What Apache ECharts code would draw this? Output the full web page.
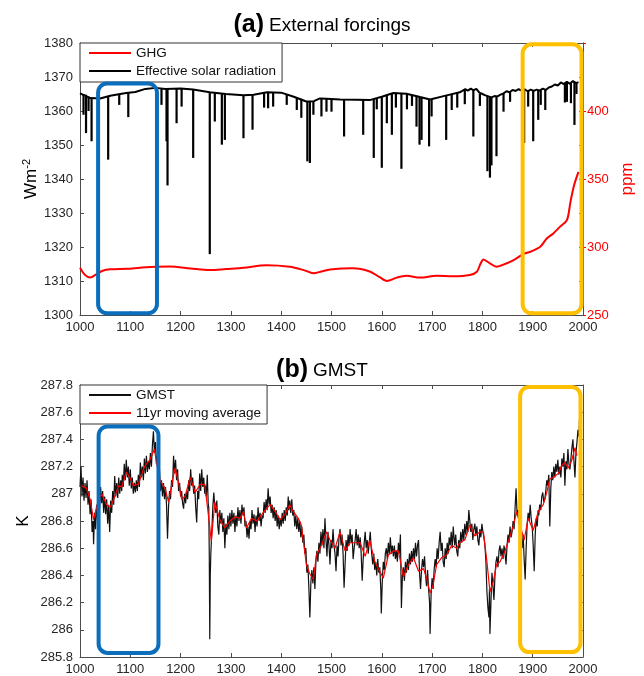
<!DOCTYPE html>
<html>
<head>
<meta charset="utf-8">
<title>External forcings and GMST</title>
<script src="https://cdn.jsdelivr.net/npm/echarts@6/dist/echarts.min.js"></script>
<style>
  html, body { margin: 0; padding: 0; background: #ffffff; }
  #chart { width: 644px; height: 676px; }
</style>
</head>
<body>
<div id="chart"></div>
<script>
// ---------- (a) External forcings ----------
// Greenhouse-gas concentration, [year, ppm]
const ghg = [
  [1000, 284.8], [1010, 279.5], [1020, 277.5], [1033, 280.0], [1045, 282.5], [1060, 283.6],
  [1093, 284.0], [1120, 284.8], [1152, 285.5], [1179, 285.6], [1220, 284.2], [1258, 283.0],
  [1290, 283.8], [1325, 284.7], [1371, 286.6], [1417, 285.5], [1445, 283.0], [1464, 280.7],
  [1480, 282.0], [1497, 283.5], [1543, 284.3], [1576, 282.0], [1595, 278.0], [1610, 275.0],
  [1630, 277.5], [1649, 278.8], [1676, 277.5], [1709, 278.8], [1742, 278.5], [1775, 279.4],
  [1789, 281.8], [1796, 287.5], [1802, 290.9], [1815, 288.0], [1828, 285.5], [1845, 287.5],
  [1862, 290.4], [1881, 294.8], [1895, 296.5], [1915, 300.2], [1928, 306.3], [1941, 310.0],
  [1954, 314.8], [1968, 319.7], [1975, 333.0], [1982, 345.0], [1991, 355.2]
];

// Effective solar radiation without volcanic dimming, [year, W m-2]
const solarBase = [
  [1000, 1365.2], [1010, 1364.5], [1020, 1363.8], [1040, 1363.7], [1060, 1364.5], [1080, 1365.0],
  [1092, 1365.3], [1110, 1365.6], [1130, 1366.5], [1150, 1366.8], [1170, 1366.5], [1200, 1366.6],
  [1225, 1366.3], [1258, 1365.5], [1290, 1365.0], [1325, 1364.6], [1345, 1364.8], [1372, 1365.5],
  [1400, 1365.4], [1425, 1364.2], [1450, 1362.8], [1465, 1362.9], [1477, 1363.7], [1490, 1363.6],
  [1517, 1363.4], [1550, 1363.3], [1576, 1363.2], [1600, 1364.2], [1623, 1365.3], [1649, 1365.1],
  [1676, 1364.1], [1696, 1363.4], [1729, 1364.6], [1755, 1365.5], [1760, 1365.9], [1766, 1366.4],
  [1771, 1366.0], [1777, 1366.6], [1782, 1366.1], [1788, 1366.5], [1794, 1365.4], [1800, 1365.0],
  [1806, 1364.6], [1812, 1364.3], [1818, 1364.0], [1824, 1364.4], [1830, 1364.3], [1836, 1364.8],
  [1842, 1365.2], [1848, 1365.8], [1854, 1365.5], [1860, 1366.2], [1866, 1365.9], [1872, 1366.4],
  [1878, 1366.0], [1884, 1366.4], [1890, 1365.8], [1896, 1366.3], [1902, 1365.9], [1908, 1366.3],
  [1914, 1366.0], [1920, 1366.6], [1926, 1366.2], [1932, 1366.9], [1938, 1367.2], [1944, 1367.8],
  [1950, 1367.5], [1956, 1368.4], [1962, 1367.9], [1968, 1368.6], [1974, 1368.0], [1980, 1368.8],
  [1986, 1368.2], [1991, 1368.5]
];

// Volcanic dimming events, [year, level before, lowest level] in W m-2
const volcanicDips = [
  [1007, 1365.0, 1358.9], [1012, 1364.8, 1353.5], [1017, 1364.3, 1360.0], [1023, 1363.8, 1351.1],
  [1056, 1364.4, 1345.7], [1078, 1365.0, 1361.8], [1096, 1365.3, 1358.2], [1162, 1366.6, 1361.8],
  [1172, 1366.5, 1351.1], [1174, 1366.5, 1338.1], [1192, 1366.6, 1356.4], [1202, 1366.6, 1361.3],
  [1225, 1366.3, 1346.2], [1258, 1365.5, 1317.9], [1268, 1365.4, 1356.9], [1282, 1365.1, 1350.1],
  [1288, 1365.0, 1351.5], [1325, 1364.6, 1352.0], [1343, 1364.8, 1354.5], [1366, 1365.3, 1361.0],
  [1374, 1365.5, 1360.8], [1384, 1365.5, 1361.3], [1411, 1365.0, 1361.8], [1431, 1364.0, 1360.3],
  [1440, 1363.6, 1358.0], [1452, 1362.8, 1345.2], [1457, 1362.8, 1344.7], [1464, 1362.9, 1358.9],
  [1480, 1363.5, 1358.4], [1490, 1363.6, 1359.8], [1500, 1363.6, 1359.8], [1525, 1363.4, 1352.5],
  [1563, 1363.2, 1353.0], [1584, 1363.6, 1346.2], [1590, 1363.8, 1360.5], [1600, 1364.2, 1343.3],
  [1610, 1364.8, 1356.4], [1620, 1365.3, 1353.0], [1628, 1365.3, 1361.0], [1639, 1365.2, 1343.0],
  [1650, 1365.1, 1360.5], [1660, 1364.8, 1361.5], [1669, 1364.4, 1355.4], [1675, 1364.2, 1350.1],
  [1679, 1364.0, 1351.5], [1694, 1363.5, 1349.6], [1699, 1363.4, 1358.4], [1728, 1364.6, 1351.5],
  [1739, 1365.0, 1360.3], [1750, 1365.4, 1361.0], [1765, 1366.2, 1362.0], [1782, 1366.1, 1352.5],
  [1795, 1365.1, 1361.5], [1810, 1364.4, 1342.3], [1815, 1364.1, 1340.4], [1818, 1364.0, 1344.0],
  [1828, 1364.3, 1346.7], [1842, 1365.2, 1359.8], [1855, 1365.5, 1362.7], [1883, 1366.4, 1350.6],
  [1891, 1366.0, 1361.3], [1901, 1366.0, 1351.1], [1911, 1366.2, 1357.4], [1916, 1366.1, 1361.8],
  [1925, 1366.3, 1360.3], [1964, 1368.3, 1362.5], [1968, 1368.6, 1362.7], [1976, 1368.2, 1362.3],
  [1983, 1368.6, 1355.9], [1987, 1368.4, 1365.0]
];

// ---------- (b) GMST ----------
// Annual global-mean surface temperature, [year, K]
const gmst = [
  [1000,287.05],[1002,287.20],[1004,286.98],[1006,287.12],[1008,286.95],[1010,287.08],[1012,286.97],[1014,287.10],
  [1016,286.92],[1018,287.02],[1020,286.85],[1022,286.96],[1024,286.72],[1026,286.80],[1027,286.63],[1029,286.86],
  [1031,286.74],[1033,286.92],[1035,286.80],[1037,287.02],[1039,286.90],[1041,287.05],[1043,286.93],[1045,287.02],
  [1047,286.86],[1049,286.98],[1051,286.85],[1053,286.96],[1055,286.78],[1057,286.92],[1059,286.72],[1061,286.95],
  [1063,286.86],[1065,287.02],[1067,286.92],[1069,287.13],[1071,286.98],[1073,287.08],[1075,286.97],[1077,287.12],
  [1079,287.00],[1081,287.10],[1083,287.02],[1084,287.14],[1086,287.05],[1088,287.22],[1090,287.10],[1092,287.25],
  [1094,287.12],[1096,287.20],[1098,287.06],[1100,287.18],[1102,287.04],[1104,287.12],[1106,287.00],[1108,287.08],
  [1110,287.01],[1112,287.10],[1114,287.02],[1116,287.14],[1118,287.05],[1120,287.23],[1122,287.12],[1124,287.20],
  [1126,287.10],[1128,287.26],[1130,287.15],[1132,287.28],[1134,287.16],[1136,287.24],[1138,287.18],[1140,287.30],
  [1142,287.20],[1144,287.36],[1146,287.46],[1148,287.30],[1150,287.38],[1152,287.22],[1154,287.28],[1156,287.12],
  [1158,287.18],[1160,287.02],[1162,287.10],[1164,286.98],[1166,287.08],[1168,286.96],[1170,287.05],[1172,286.92],
  [1174,286.67],[1176,286.90],[1178,287.02],[1180,286.96],[1182,287.10],[1184,287.05],[1186,287.28],[1188,287.15],
  [1190,287.25],[1192,287.10],[1194,287.18],[1196,287.02],[1198,287.08],[1200,286.98],[1202,287.02],[1204,286.93],
  [1206,286.89],[1208,287.00],[1210,286.93],[1212,287.02],[1214,286.96],[1216,287.10],[1218,287.02],[1220,287.18],
  [1222,287.06],[1224,287.12],[1226,287.00],[1228,287.06],[1230,286.90],[1232,286.79],[1234,287.02],[1236,286.96],
  [1238,287.15],[1240,287.02],[1242,287.18],[1244,287.05],[1246,287.12],[1248,287.00],[1249,287.06],[1251,286.98],
  [1253,287.14],[1255,286.92],[1256,286.90],[1257,286.55],[1258,285.93],[1259,286.40],[1260,286.55],[1262,286.72],
  [1264,286.90],[1266,287.01],[1268,286.90],[1270,286.86],[1272,286.95],[1274,286.76],[1276,286.70],[1278,286.88],
  [1280,286.78],[1282,286.86],[1284,286.72],[1286,286.82],[1288,286.60],[1290,286.78],[1292,286.70],[1294,286.84],
  [1296,286.74],[1298,286.86],[1300,286.76],[1302,286.88],[1304,286.78],[1306,286.86],[1308,286.72],[1310,286.84],
  [1312,286.76],[1314,286.90],[1316,286.80],[1318,286.88],[1320,286.78],[1322,286.92],[1324,286.84],[1326,286.90],
  [1328,286.76],[1330,286.80],[1332,286.68],[1334,286.76],[1336,286.67],[1338,286.80],[1340,286.74],[1342,286.88],
  [1344,286.78],[1346,286.85],[1348,286.72],[1350,286.84],[1352,286.76],[1354,286.90],[1356,286.80],[1358,286.86],
  [1360,286.76],[1362,286.84],[1364,286.82],[1366,286.94],[1368,286.86],[1370,286.96],[1372,286.88],[1374,287.04],
  [1376,286.92],[1378,286.98],[1380,286.86],[1382,286.92],[1384,286.82],[1386,286.90],[1388,286.80],[1390,286.88],
  [1392,286.76],[1394,286.84],[1396,286.74],[1398,286.82],[1400,286.76],[1402,286.86],[1404,286.78],[1406,286.88],
  [1408,286.80],[1410,286.90],[1412,286.84],[1414,286.98],[1415,286.88],[1417,286.95],[1419,286.86],[1421,286.96],
  [1423,286.84],[1425,286.88],[1427,286.76],[1429,286.84],[1431,286.74],[1433,286.82],[1435,286.72],[1437,286.80],
  [1439,286.68],[1441,286.76],[1443,286.64],[1445,286.70],[1447,286.56],[1449,286.60],[1451,286.42],[1453,286.48],
  [1455,286.31],[1457,286.09],[1459,286.35],[1461,286.44],[1463,286.34],[1465,286.46],[1467,286.30],[1469,286.50],
  [1471,286.58],[1473,286.50],[1475,286.64],[1477,286.56],[1479,286.72],[1481,286.62],[1483,286.74],[1485,286.60],
  [1487,286.82],[1489,286.66],[1491,286.54],[1493,286.72],[1495,286.62],[1497,286.48],[1499,286.66],[1501,286.60],
  [1503,286.74],[1505,286.62],[1507,286.56],[1509,286.43],[1511,286.62],[1513,286.54],[1515,286.68],[1517,286.74],
  [1519,286.62],[1521,286.70],[1523,286.56],[1525,286.31],[1527,286.48],[1529,286.66],[1531,286.58],[1533,286.70],
  [1535,286.62],[1537,286.74],[1539,286.64],[1541,286.70],[1543,286.52],[1545,286.60],[1547,286.66],[1549,286.74],
  [1551,286.62],[1553,286.70],[1555,286.60],[1557,286.68],[1559,286.56],[1561,286.36],[1563,286.52],[1565,286.64],
  [1567,286.72],[1569,286.60],[1571,286.66],[1573,286.56],[1575,286.64],[1577,286.72],[1579,286.60],[1581,286.52],
  [1582,286.48],[1584,286.56],[1586,286.44],[1588,286.50],[1590,286.40],[1592,286.52],[1594,286.42],[1596,286.46],
  [1598,286.30],[1599,286.12],[1601,286.36],[1603,286.50],[1605,286.44],[1607,286.56],[1609,286.60],[1611,286.52],
  [1613,286.64],[1615,286.56],[1617,286.68],[1619,286.56],[1621,286.62],[1623,286.54],[1625,286.62],[1627,286.52],
  [1629,286.58],[1631,286.50],[1633,286.64],[1635,286.56],[1637,286.70],[1639,286.16],[1641,286.40],[1643,286.46],
  [1645,286.36],[1647,286.50],[1649,286.42],[1651,286.52],[1653,286.44],[1655,286.56],[1657,286.48],[1659,286.58],
  [1661,286.50],[1663,286.60],[1665,286.52],[1667,286.64],[1669,286.54],[1671,286.62],[1673,286.66],[1675,286.42],
  [1677,286.30],[1679,286.44],[1681,286.52],[1683,286.46],[1685,286.54],[1687,286.40],[1689,286.32],[1691,286.44],
  [1693,286.30],[1695,286.20],[1696,285.97],[1698,286.26],[1700,286.38],[1702,286.30],[1704,286.44],[1706,286.52],
  [1708,286.46],[1710,286.60],[1712,286.52],[1714,286.64],[1716,286.72],[1718,286.58],[1720,286.64],[1722,286.50],
  [1724,286.46],[1726,286.60],[1728,286.52],[1730,286.64],[1732,286.56],[1734,286.68],[1736,286.62],[1738,286.72],
  [1740,286.60],[1742,286.76],[1744,286.66],[1745,286.62],[1747,286.70],[1749,286.58],[1751,286.54],[1753,286.66],
  [1755,286.60],[1757,286.72],[1759,286.64],[1761,286.74],[1763,286.66],[1765,286.78],[1767,286.70],[1769,286.80],
  [1771,286.72],[1773,286.88],[1775,286.80],[1777,286.72],[1779,286.78],[1781,286.66],[1783,286.74],[1785,286.78],
  [1787,286.70],[1789,286.76],[1791,286.66],[1793,286.62],[1795,286.74],[1797,286.68],[1799,286.78],[1801,286.72],
  [1803,286.68],[1805,286.62],[1807,286.50],[1809,286.28],[1811,286.16],[1813,286.09],[1814,286.30],[1815,285.97],
  [1817,286.20],[1819,286.42],[1821,286.32],[1823,286.22],[1825,286.40],[1827,286.50],[1829,286.54],[1831,286.46],
  [1833,286.58],[1835,286.62],[1837,286.54],[1839,286.60],[1841,286.52],[1843,286.62],[1845,286.56],[1847,286.48],
  [1849,286.62],[1851,286.70],[1853,286.64],[1855,286.76],[1857,286.68],[1859,286.72],[1861,286.80],[1863,286.74],
  [1865,286.90],[1867,287.04],[1869,286.84],[1871,286.88],[1873,286.78],[1875,286.74],[1877,286.66],[1879,286.60],
  [1881,286.70],[1883,286.52],[1885,286.37],[1887,286.60],[1889,286.78],[1891,286.86],[1893,286.80],[1895,286.92],
  [1897,286.82],[1899,286.76],[1901,286.62],[1903,286.43],[1905,286.70],[1907,286.82],[1909,286.76],[1911,286.88],
  [1912,286.84],[1914,286.92],[1916,286.88],[1918,286.98],[1920,287.01],[1922,286.94],[1924,286.96],[1926,287.02],
  [1928,287.10],[1930,287.06],[1932,287.14],[1934,286.76],[1936,287.04],[1938,287.16],[1940,287.10],[1942,287.20],
  [1944,287.12],[1946,287.22],[1948,287.16],[1950,287.25],[1952,287.14],[1954,287.20],[1956,287.12],[1958,287.26],
  [1960,287.20],[1962,287.30],[1964,287.06],[1966,287.24],[1968,287.18],[1970,287.33],[1972,287.22],[1974,287.18],
  [1976,287.26],[1978,287.34],[1980,287.40],[1982,287.24],[1984,287.12],[1986,287.30],[1988,287.38],[1990,287.47],
  [1992,287.42],[1993,287.55]
];

// 11-year running mean of GMST, [year, K]
const gmstSmooth = [
  [1003,287.06],[1013,287.04],[1020,286.96],[1027,286.81],[1030,286.82],[1037,286.96],[1043,287.00],[1053,286.92],
  [1060,286.90],[1067,286.96],[1077,287.06],[1083,287.05],[1092,287.16],[1099,287.12],[1106,287.06],[1116,287.07],
  [1126,287.18],[1132,287.22],[1139,287.25],[1148,287.33],[1152,287.23],[1159,287.10],[1169,287.04],[1176,286.94],
  [1182,287.06],[1189,287.19],[1196,287.08],[1202,286.96],[1209,286.98],[1219,287.12],[1229,287.01],[1239,287.07],
  [1248,287.07],[1256,286.82],[1261,286.65],[1268,286.94],[1278,286.81],[1288,286.75],[1298,286.80],[1308,286.83],
  [1318,286.82],[1325,286.87],[1331,286.75],[1341,286.82],[1351,286.80],[1358,286.83],[1368,286.88],[1378,286.92],
  [1388,286.87],[1398,286.81],[1408,286.85],[1417,286.92],[1424,286.87],[1434,286.82],[1440,286.77],[1450,286.48],
  [1457,286.41],[1464,286.37],[1470,286.55],[1480,286.62],[1490,286.72],[1497,286.66],[1507,286.60],[1517,286.72],
  [1527,286.58],[1537,286.64],[1547,286.64],[1557,286.64],[1567,286.54],[1576,286.66],[1586,286.50],[1596,286.43],
  [1603,286.38],[1613,286.55],[1623,286.58],[1633,286.58],[1643,286.39],[1653,286.48],[1663,286.53],[1673,286.43],
  [1683,286.45],[1689,286.38],[1696,286.27],[1702,286.33],[1709,286.48],[1719,286.53],[1729,286.55],[1739,286.62],
  [1749,286.60],[1755,286.64],[1765,286.66],[1775,286.77],[1785,286.69],[1795,286.72],[1802,286.72],[1809,286.50],
  [1815,286.28],[1822,286.36],[1828,286.48],[1835,286.50],[1845,286.58],[1855,286.69],[1862,286.77],[1868,286.87],
  [1875,286.77],[1883,286.66],[1891,286.82],[1901,286.73],[1911,286.87],[1921,286.92],[1928,287.01],[1934,287.11],
  [1941,287.12],[1951,287.15],[1958,287.21],[1964,287.23],[1971,287.19],[1978,287.25],[1984,287.34],[1988,287.28]
];

// Highlighted periods: [start year, end year, lower value, upper value]
const forcingWindows = [[1036, 1153, 1300.5, 1368.1], [1880, 1997, 1300.5, 1379.6]];
const gmstWindows = [[1037, 1156, 285.83, 287.495], [1875, 1995, 285.836, 287.785]];
const windowColors = ['#0a6ebd', '#ffc000'];

// Axis tick settings
const yearTicks = { min: 1000, max: 2000, interval: 100 };
const forcingTicks = { min: 1300, max: 1380, interval: 10 };
const ppmTicks = { min: 250, max: 450, interval: 50 };
const gmstTicks = { min: 285.8, max: 287.8, interval: 0.2 };

const FONT = '"Liberation Sans", Arial, Helvetica, sans-serif';
const AXIS_COLOR = '#4d4d4d';
const LABEL_COLOR = '#262626';
const plain = v => String(v);

const chart = echarts.init(document.getElementById('chart'), null, { renderer: 'canvas' });

function xAxisFor(gridIndex, position, showLabels) {
  return {
    type: 'value', gridIndex, position, ...yearTicks,
    axisLine: { show: true, onZero: false, lineStyle: { color: AXIS_COLOR, width: 1 } },
    axisTick: { show: true, inside: true, length: 4, lineStyle: { color: AXIS_COLOR } },
    axisLabel: { show: showLabels, color: LABEL_COLOR, fontSize: 13, fontFamily: FONT, margin: 6, formatter: plain },
    splitLine: { show: false }
  };
}

function mirrorY(gridIndex, ticks) {
  return {
    type: 'value', gridIndex, position: 'right', ...ticks,
    axisLine: { show: true, lineStyle: { color: AXIS_COLOR } },
    axisTick: { show: true, inside: true, length: 4, lineStyle: { color: AXIS_COLOR } },
    axisLabel: { show: false }, splitLine: { show: false }
  };
}

function legendFor(names, top) {
  return {
    data: names,
    left: 80, top, orient: 'vertical',
    itemWidth: 42, itemHeight: 14, itemGap: 4,
    padding: [3, 6, 4, 8],
    backgroundColor: '#ffffff', borderColor: '#333', borderWidth: 1,
    itemStyle: { opacity: 0 },
    textStyle: { fontSize: 13.5, color: '#111', fontFamily: FONT },
    selectedMode: false
  };
}

const titleRich = {
  p: { fontSize: 25, fontWeight: 'bold', color: '#000', fontFamily: FONT },
  t: { fontSize: 19, fontWeight: 'normal', color: '#000', fontFamily: FONT }
};

const option = {
  animation: false,
  backgroundColor: '#ffffff',
  textStyle: { fontFamily: FONT },
  title: [
    { text: '{p|(a)} {t|External forcings}', left: 'center', top: 8,
      textStyle: { fontWeight: 'normal', rich: titleRich } },
    { text: '{p|(b)} {t|GMST}', left: 'center', top: 353,
      textStyle: { fontWeight: 'normal', rich: titleRich } }
  ],
  legend: [
    legendFor(['GHG', 'Effective solar radiation'], 43),
    legendFor(['GMST', '11yr moving average'], 385)
  ],
  grid: [
    { left: 80, top: 43, width: 503, height: 272 },
    { left: 80, top: 385, width: 503, height: 273 }
  ],
  xAxis: [
    xAxisFor(0, 'bottom', true),
    xAxisFor(0, 'top', false),
    xAxisFor(1, 'bottom', true),
    xAxisFor(1, 'top', false)
  ],
  yAxis: [
    {
      type: 'value', gridIndex: 0, position: 'left', ...forcingTicks,
      name: '{m|Wm}{s|-2}', nameLocation: 'middle', nameRotate: 90, nameGap: 39,
      nameMoveOverlap: false,
      nameTextStyle: { rich: {
        m: { fontSize: 17, color: '#000', fontFamily: FONT },
        s: { fontSize: 11, color: '#000', fontFamily: FONT, verticalAlign: 'top', padding: [0, 0, 9, 0] }
      } },
      axisLine: { show: true, lineStyle: { color: AXIS_COLOR } },
      axisTick: { show: true, inside: true, length: 4, lineStyle: { color: AXIS_COLOR } },
      axisLabel: { color: LABEL_COLOR, fontSize: 13, fontFamily: FONT, margin: 7, formatter: plain },
      splitLine: { show: false }
    },
    {
      type: 'value', gridIndex: 0, position: 'right', ...ppmTicks,
      name: 'ppm', nameLocation: 'middle', nameRotate: 90, nameGap: 36,
      nameMoveOverlap: false,
      nameTextStyle: { fontSize: 17, color: '#ff0000', fontFamily: FONT },
      axisLine: { show: true, lineStyle: { color: AXIS_COLOR } },
      axisTick: { show: true, inside: false, length: 3, lineStyle: { color: '#ff0000' } },
      axisLabel: {
        color: '#ff0000', fontSize: 13, fontFamily: FONT, margin: 4,
        formatter: v => (v >= 450 ? '' : String(v))
      },
      splitLine: { show: false }
    },
    mirrorY(0, forcingTicks),
    {
      type: 'value', gridIndex: 1, position: 'left', ...gmstTicks,
      name: 'K', nameLocation: 'middle', nameRotate: 90, nameGap: 48,
      nameMoveOverlap: false,
      nameTextStyle: { fontSize: 17, color: '#000', fontFamily: FONT },
      axisLine: { show: true, lineStyle: { color: AXIS_COLOR } },
      axisTick: { show: true, inside: true, length: 4, lineStyle: { color: AXIS_COLOR } },
      axisLabel: { color: LABEL_COLOR, fontSize: 13, fontFamily: FONT, margin: 7 },
      splitLine: { show: false }
    },
    mirrorY(1, gmstTicks)
  ],
  series: [
    {
      name: 'GHG', type: 'line', xAxisIndex: 0, yAxisIndex: 1,
      data: ghg, smooth: 0.3, symbol: 'none', showSymbol: false,
      lineStyle: { color: '#ff0000', width: 2 }, itemStyle: { color: '#ff0000' }, z: 3
    },
    {
      name: 'Effective solar radiation', type: 'line', xAxisIndex: 0, yAxisIndex: 0,
      data: solarBase, symbol: 'none', showSymbol: false,
      lineStyle: { color: '#000', width: 2 }, itemStyle: { color: '#000' }, z: 3
    },
    {
      name: 'volcanic dimming', type: 'custom', xAxisIndex: 0, yAxisIndex: 0,
      data: volcanicDips,
      encode: { x: 0, y: [1, 2] },
      renderItem: (params, api) => {
        const top = api.coord([api.value(0), api.value(1)]);
        const low = api.coord([api.value(0), api.value(2)]);
        return {
          type: 'line',
          shape: { x1: top[0], y1: top[1], x2: low[0], y2: low[1] },
          style: { stroke: '#000', lineWidth: 2.2 }
        };
      },
      z: 3
    },
    {
      name: 'GMST', type: 'line', xAxisIndex: 2, yAxisIndex: 3,
      data: gmst, symbol: 'none', showSymbol: false,
      lineStyle: { color: '#111', width: 1.2 }, itemStyle: { color: '#111' }, z: 3
    },
    {
      name: '11yr moving average', type: 'line', xAxisIndex: 2, yAxisIndex: 3,
      data: gmstSmooth, symbol: 'none', showSymbol: false,
      lineStyle: { color: '#ff0000', width: 1.2 }, itemStyle: { color: '#ff0000' }, z: 4
    }
  ]
};

chart.setOption(option);

// Rounded frames around the highlighted periods, placed through the axes' own scales
function frame(win, finder, color) {
  const a = chart.convertToPixel(finder, [win[0], win[3]]);
  const b = chart.convertToPixel(finder, [win[1], win[2]]);
  return {
    type: 'rect', z: 100,
    shape: { x: a[0], y: a[1], width: b[0] - a[0], height: b[1] - a[1], r: 9 },
    style: { fill: 'none', stroke: color, lineWidth: 4 }
  };
}

const frames = [];
forcingWindows.forEach((w, i) => frames.push(frame(w, { xAxisIndex: 0, yAxisIndex: 0 }, windowColors[i])));
gmstWindows.forEach((w, i) => frames.push(frame(w, { xAxisIndex: 2, yAxisIndex: 3 }, windowColors[i])));
chart.setOption({ graphic: frames });
</script>
</body>
</html>
